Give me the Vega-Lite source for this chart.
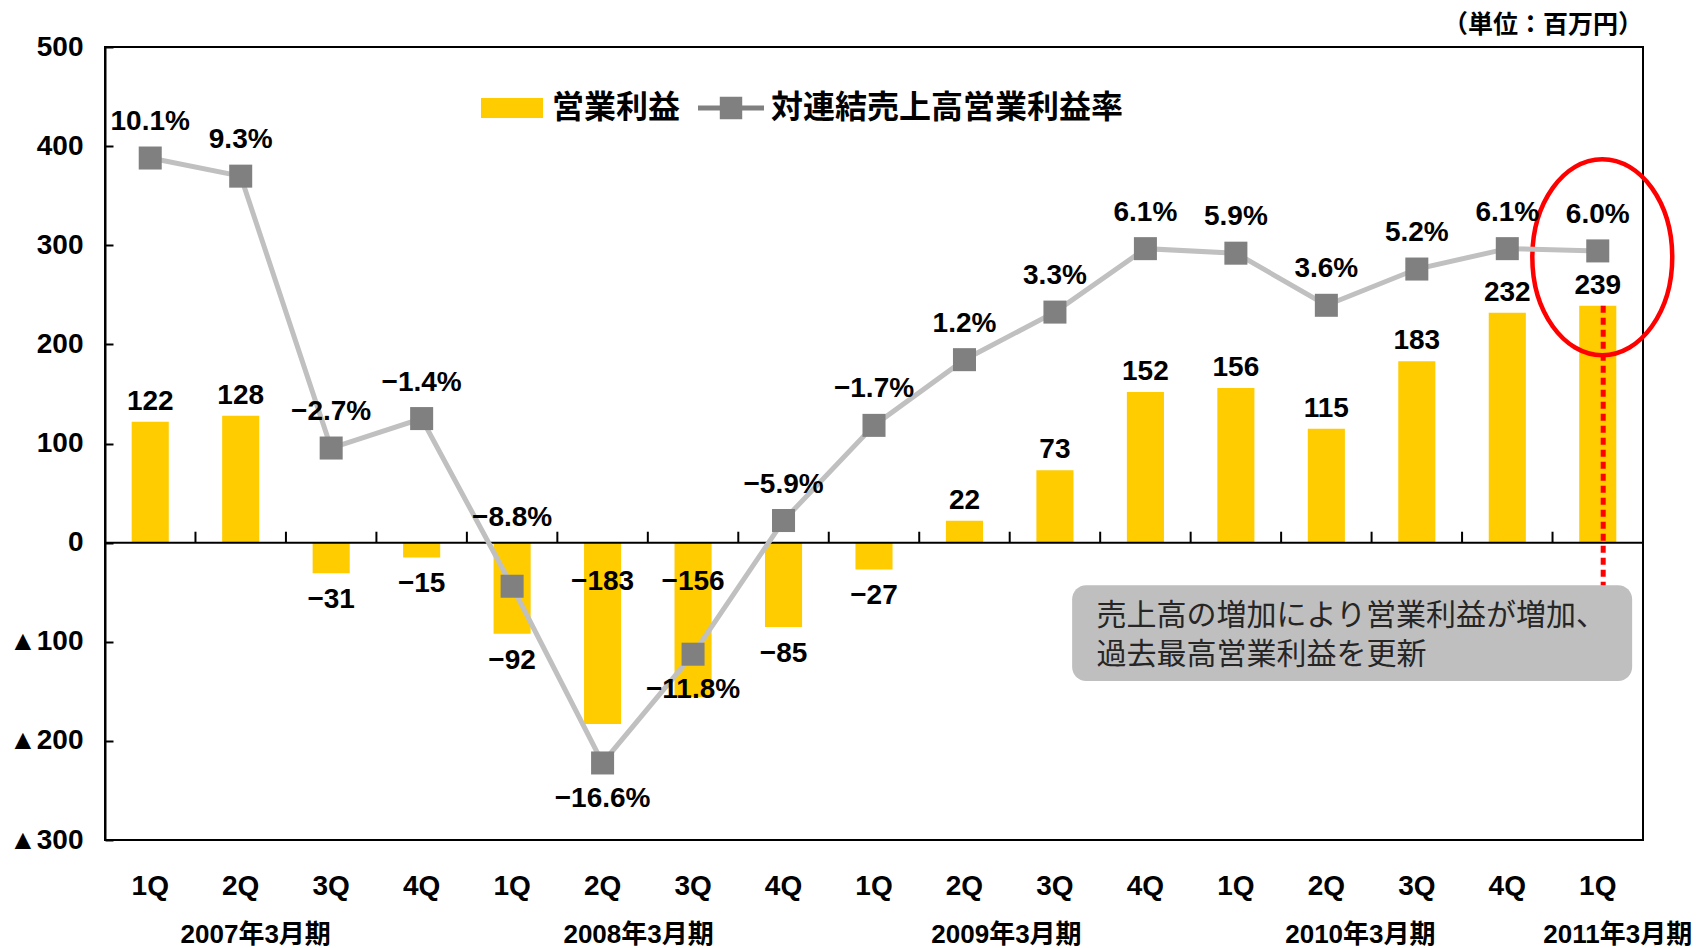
{
  "$schema": "https://vega.github.io/schema/vega-lite/v6.json",
  "width": 1538,
  "height": 793,
  "autosize": {"type": "none"},
  "padding": {"left": 105, "top": 47, "right": 57, "bottom": 108},
  "background": "white",
  "title": {"text": "（単位：百万円）", "anchor": "end", "frame": "group", "font": "Noto Sans CJK JP", "fontSize": 25, "fontWeight": "bold", "color": "black", "offset": -5},
  "config": {
    "view": {"stroke": "black", "strokeWidth": 2},
    "font": "Liberation Sans",
    "axisX": {"labelExpr": "substring(datum.label, 3)", "ticks": false, "domain": false, "grid": false, "labelAngle": 0, "labelFont": "Liberation Sans", "labelFontSize": 28, "labelFontWeight": "bold", "labelColor": "black", "labelPadding": 32}
  },
  "datasets": {
    "q": [
      {"id": "07-1Q", "profit": 122, "margin": 0.101},
      {"id": "07-2Q", "profit": 128, "margin": 0.093},
      {"id": "07-3Q", "profit": -31, "margin": -0.027},
      {"id": "07-4Q", "profit": -15, "margin": -0.014},
      {"id": "08-1Q", "profit": -92, "margin": -0.088},
      {"id": "08-2Q", "profit": -183, "margin": -0.166},
      {"id": "08-3Q", "profit": -156, "margin": -0.118},
      {"id": "08-4Q", "profit": -85, "margin": -0.059},
      {"id": "09-1Q", "profit": -27, "margin": -0.017},
      {"id": "09-2Q", "profit": 22, "margin": 0.012},
      {"id": "09-3Q", "profit": 73, "margin": 0.033},
      {"id": "09-4Q", "profit": 152, "margin": 0.061},
      {"id": "10-1Q", "profit": 156, "margin": 0.059},
      {"id": "10-2Q", "profit": 115, "margin": 0.036},
      {"id": "10-3Q", "profit": 183, "margin": 0.052},
      {"id": "10-4Q", "profit": 232, "margin": 0.061},
      {"id": "11-1Q", "profit": 239, "margin": 0.060}
    ],
    "legend": [
      {"series": "営業利益"},
      {"series": "対連結売上高営業利益率"}
    ],
    "one": [{"note": "annotation"}]
  },
  "data": {"name": "q"},
  "layer": [
    {
      "mark": {"type": "bar", "color": "#FFCC00", "width": {"band": 0.41}},
      "encoding": {
        "x": {
          "field": "id", "type": "nominal", "title": null,
          "scale": {"domain": ["07-1Q","07-2Q","07-3Q","07-4Q","08-1Q","08-2Q","08-3Q","08-4Q","09-1Q","09-2Q","09-3Q","09-4Q","10-1Q","10-2Q","10-3Q","10-4Q","11-1Q"], "paddingInner": 0, "paddingOuter": 0}
        },
        "y": {
          "field": "profit", "type": "quantitative",
          "scale": {"domain": [-300, 500], "nice": false, "zero": false},
          "axis": {"title": null, "values": [-300, -200, -100, 0, 100, 200, 300, 400, 500], "labelExpr": "datum.value < 0 ? '▲' + (-datum.value) : '' + datum.value", "grid": false, "tickSize": -8, "tickWidth": 2, "tickColor": "black", "domainColor": "black", "domainWidth": 2, "labelFont": "Liberation Sans, Noto Sans CJK JP", "labelFontSize": 28, "labelFontWeight": "bold", "labelColor": "black", "labelPadding": 30}
        }
      }
    },
    {
      "transform": [{"filter": "datum.profit >= 0"}],
      "mark": {"type": "text", "baseline": "alphabetic", "dy": -12, "font": "Liberation Sans", "fontSize": 28, "fontWeight": "bold", "color": "black"},
      "encoding": {
        "x": {"field": "id", "type": "nominal", "title": null},
        "y": {"field": "profit", "type": "quantitative", "scale": {"domain": [-300, 500], "nice": false, "zero": false}, "axis": null},
        "text": {"field": "profit", "type": "quantitative", "format": "d"}
      }
    },
    {
      "transform": [{"filter": "datum.profit < 0 && datum.profit > -150"}],
      "mark": {"type": "text", "baseline": "top", "dy": 13, "font": "Liberation Sans", "fontSize": 28, "fontWeight": "bold", "color": "black"},
      "encoding": {
        "x": {"field": "id", "type": "nominal", "title": null},
        "y": {"field": "profit", "type": "quantitative", "scale": {"domain": [-300, 500], "nice": false, "zero": false}, "axis": null},
        "text": {"field": "profit", "type": "quantitative", "format": "d"}
      }
    },
    {
      "transform": [{"filter": "datum.profit <= -150"}],
      "mark": {"type": "text", "baseline": "top", "dy": 25, "font": "Liberation Sans", "fontSize": 28, "fontWeight": "bold", "color": "black"},
      "encoding": {
        "x": {"field": "id", "type": "nominal", "title": null},
        "y": {"datum": 0, "type": "quantitative", "scale": {"domain": [-300, 500], "nice": false, "zero": false}, "axis": null},
        "text": {"field": "profit", "type": "quantitative", "format": "d"}
      }
    },
    {
      "data": {"name": "one"},
      "mark": {"type": "rule", "color": "black", "strokeWidth": 2},
      "encoding": {"y": {"datum": 0, "type": "quantitative", "scale": {"domain": [-300, 500], "nice": false, "zero": false}, "axis": null}}
    },
    {
      "mark": {"type": "rule", "color": "black", "strokeWidth": 2},
      "encoding": {
        "x": {"field": "id", "type": "nominal", "bandPosition": 0, "title": null},
        "y": {"datum": 0, "type": "quantitative", "scale": {"domain": [-300, 500], "nice": false, "zero": false}, "axis": null},
        "y2": {"datum": 11}
      }
    },
    {
      "data": {"name": "one"},
      "mark": {"type": "rect", "color": "#BFBFBF", "cornerRadius": 14},
      "encoding": {
        "x": {"datum": "09-3Q", "type": "nominal", "bandPosition": 0.69, "title": null},
        "x2": {"datum": "11-1Q", "bandPosition": 0.88},
        "y": {"datum": -43, "type": "quantitative", "scale": {"domain": [-300, 500], "nice": false, "zero": false}, "axis": null},
        "y2": {"datum": -139.6}
      }
    },
    {
      "data": {"name": "one"},
      "mark": {"type": "text", "align": "left", "baseline": "middle", "font": "Noto Sans CJK JP", "fontSize": 30, "color": "#262626", "lineHeight": 39},
      "encoding": {
        "x": {"datum": "09-3Q", "type": "nominal", "bandPosition": 0.96, "title": null},
        "y": {"datum": -74, "type": "quantitative", "scale": {"domain": [-300, 500], "nice": false, "zero": false}, "axis": null},
        "text": {"value": ["売上高の増加により営業利益が増加、", "過去最高営業利益を更新"]}
      }
    },
    {
      "data": {"name": "one"},
      "mark": {"type": "rule", "color": "#FF0000", "strokeWidth": 5, "strokeDash": [7, 5]},
      "encoding": {
        "x": {"datum": "11-1Q", "type": "nominal", "bandPosition": 0.56, "title": null},
        "y": {"datum": 239, "type": "quantitative", "scale": {"domain": [-300, 500], "nice": false, "zero": false}, "axis": null},
        "y2": {"datum": -43}
      }
    },
    {
      "data": {"name": "one"},
      "mark": {"type": "point", "shape": "M-0.714,0A0.714,1,0,1,0,0.714,0A0.714,1,0,1,0,-0.714,0Z", "filled": false, "stroke": "#FF0000", "strokeWidth": 4.5, "size": 38416, "opacity": 1},
      "encoding": {
        "x": {"datum": "11-1Q", "type": "nominal", "bandPosition": 0.55, "title": null},
        "y": {"datum": 288, "type": "quantitative", "scale": {"domain": [-300, 500], "nice": false, "zero": false}, "axis": null}
      }
    },
    {
      "data": {"name": "one"},
      "mark": {"type": "text", "baseline": "middle", "dy": 95, "font": "Liberation Sans, Noto Sans CJK JP", "fontSize": 26, "fontWeight": "bold", "color": "black"},
      "encoding": {
        "x": {"datum": "07-2Q", "type": "nominal", "bandPosition": 0.666, "title": null},
        "y": {"datum": -300, "type": "quantitative", "scale": {"domain": [-300, 500], "nice": false, "zero": false}, "axis": null},
        "text": {"value": "2007年3月期"}
      }
    },
    {
      "data": {"name": "one"},
      "mark": {"type": "text", "baseline": "middle", "dy": 95, "font": "Liberation Sans, Noto Sans CJK JP", "fontSize": 26, "fontWeight": "bold", "color": "black"},
      "encoding": {
        "x": {"datum": "08-2Q", "type": "nominal", "bandPosition": 0.898, "title": null},
        "y": {"datum": -300, "type": "quantitative", "scale": {"domain": [-300, 500], "nice": false, "zero": false}, "axis": null},
        "text": {"value": "2008年3月期"}
      }
    },
    {
      "data": {"name": "one"},
      "mark": {"type": "text", "baseline": "middle", "dy": 95, "font": "Liberation Sans, Noto Sans CJK JP", "fontSize": 26, "fontWeight": "bold", "color": "black"},
      "encoding": {
        "x": {"datum": "09-2Q", "type": "nominal", "bandPosition": 0.964, "title": null},
        "y": {"datum": -300, "type": "quantitative", "scale": {"domain": [-300, 500], "nice": false, "zero": false}, "axis": null},
        "text": {"value": "2009年3月期"}
      }
    },
    {
      "data": {"name": "one"},
      "mark": {"type": "text", "baseline": "middle", "dy": 95, "font": "Liberation Sans, Noto Sans CJK JP", "fontSize": 26, "fontWeight": "bold", "color": "black"},
      "encoding": {
        "x": {"datum": "10-2Q", "type": "nominal", "bandPosition": 0.876, "title": null},
        "y": {"datum": -300, "type": "quantitative", "scale": {"domain": [-300, 500], "nice": false, "zero": false}, "axis": null},
        "text": {"value": "2010年3月期"}
      }
    },
    {
      "data": {"name": "one"},
      "mark": {"type": "text", "baseline": "middle", "dy": 95, "font": "Liberation Sans, Noto Sans CJK JP", "fontSize": 26, "fontWeight": "bold", "color": "black"},
      "encoding": {
        "x": {"datum": "11-1Q", "type": "nominal", "bandPosition": 0.721, "title": null},
        "y": {"datum": -300, "type": "quantitative", "scale": {"domain": [-300, 500], "nice": false, "zero": false}, "axis": null},
        "text": {"value": "2011年3月期"}
      }
    },
    {
      "mark": {"type": "line", "color": "#C0C0C0", "strokeWidth": 5},
      "encoding": {
        "x": {"field": "id", "type": "nominal", "title": null},
        "y": {"field": "margin", "type": "quantitative", "scale": {"domain": [-0.2, 0.15], "nice": false, "zero": false}, "axis": null}
      }
    },
    {
      "mark": {"type": "point", "shape": "square", "filled": true, "color": "#808080", "size": 530, "opacity": 1},
      "encoding": {
        "x": {"field": "id", "type": "nominal", "title": null},
        "y": {"field": "margin", "type": "quantitative", "scale": {"domain": [-0.2, 0.15], "nice": false, "zero": false}, "axis": null}
      }
    },
    {
      "transform": [{"filter": "datum.margin > -0.08"}],
      "mark": {"type": "text", "baseline": "alphabetic", "dy": -28, "font": "Liberation Sans", "fontSize": 28, "fontWeight": "bold", "color": "black"},
      "encoding": {
        "x": {"field": "id", "type": "nominal", "title": null},
        "y": {"field": "margin", "type": "quantitative", "scale": {"domain": [-0.2, 0.15], "nice": false, "zero": false}, "axis": null},
        "text": {"field": "margin", "type": "quantitative", "format": ".1%"}
      }
    },
    {
      "transform": [{"filter": "datum.margin <= -0.08 && datum.margin > -0.1"}],
      "mark": {"type": "text", "baseline": "alphabetic", "dy": -60, "font": "Liberation Sans", "fontSize": 28, "fontWeight": "bold", "color": "black"},
      "encoding": {
        "x": {"field": "id", "type": "nominal", "title": null},
        "y": {"field": "margin", "type": "quantitative", "scale": {"domain": [-0.2, 0.15], "nice": false, "zero": false}, "axis": null},
        "text": {"field": "margin", "type": "quantitative", "format": ".1%"}
      }
    },
    {
      "transform": [{"filter": "datum.margin <= -0.1"}],
      "mark": {"type": "text", "baseline": "top", "dy": 22, "font": "Liberation Sans", "fontSize": 28, "fontWeight": "bold", "color": "black"},
      "encoding": {
        "x": {"field": "id", "type": "nominal", "title": null},
        "y": {"field": "margin", "type": "quantitative", "scale": {"domain": [-0.2, 0.15], "nice": false, "zero": false}, "axis": null},
        "text": {"field": "margin", "type": "quantitative", "format": ".1%"}
      }
    },
    {
      "data": {"name": "legend"},
      "transform": [{"filter": "false"}],
      "mark": {"type": "point", "filled": true, "opacity": 1},
      "encoding": {
        "color": {
          "field": "series", "type": "nominal",
          "scale": {"domain": ["営業利益", "対連結売上高営業利益率"], "range": ["#FFCC00", "#808080"]},
          "legend": {"title": null, "orient": "none", "legendX": 374, "legendY": 28, "direction": "horizontal", "columns": 2, "columnPadding": 17, "padding": 0, "symbolSize": 4356, "symbolOpacity": 1, "symbolStrokeWidth": 0, "labelOffset": 7, "labelFont": "Noto Sans CJK JP", "labelFontSize": 32, "labelFontWeight": "bold", "labelColor": "black", "labelLimit": 600}
        },
        "shape": {
          "field": "series", "type": "nominal",
          "scale": {"domain": ["営業利益", "対連結売上高営業利益率"], "range": ["M-0.94,-0.3H0.94V0.3H-0.94Z", "M-1,-0.076H1V0.076H-1Z M-0.34,-0.34H0.34V0.34H-0.34Z"]}
        }
      }
    }
  ],
  "resolve": {"scale": {"y": "independent"}}
}
